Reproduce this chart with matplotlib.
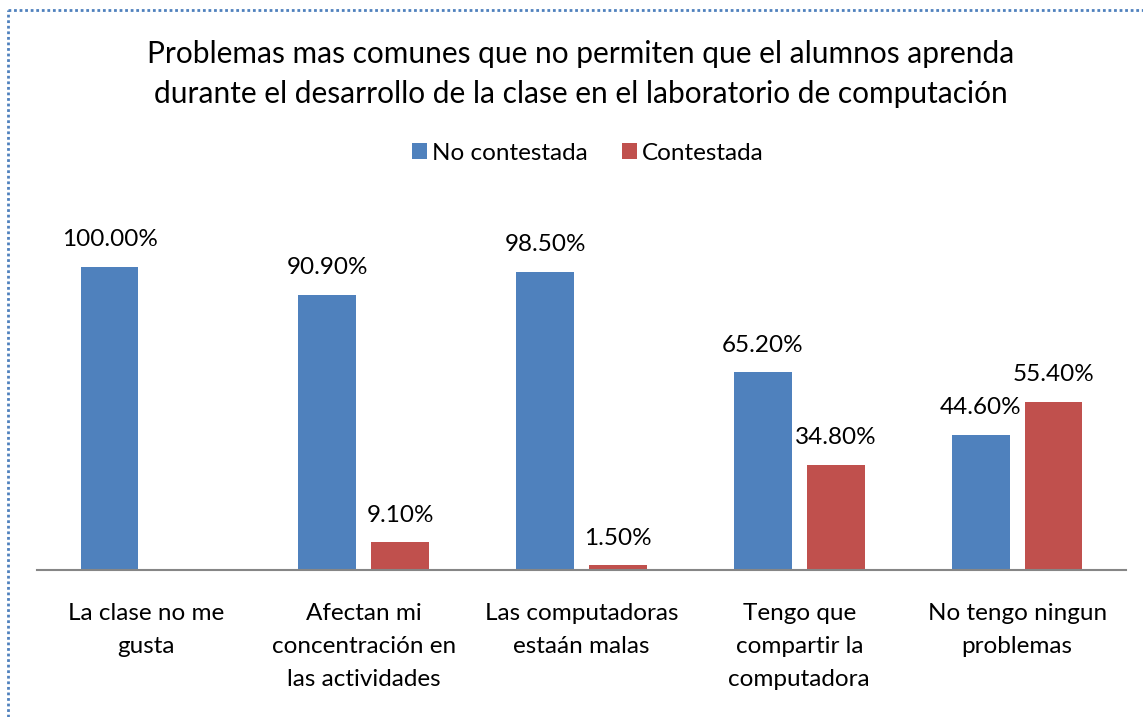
import numpy as np
import matplotlib.pyplot as plt
from matplotlib.lines import Line2D

categories = ['La clase no me\ngusta', 'Afectan mi\nconcentración en\nlas actividades',
              'Las computadoras\nestaán malas', 'Tengo que\ncompartir la\ncomputadora',
              'No tengo ningun\nproblemas']
no_contestada = [100.0, 90.9, 98.5, 65.2, 44.6]
contestada = [0.0, 9.1, 1.5, 34.8, 55.4]

plt.rcParams['font.family'] = ['Lato', 'DejaVu Sans']

W, H = 1143, 717
fig = plt.figure(figsize=(W / 100, H / 100), dpi=100)

# plot area: baseline at y=570 px, axis line x 37..1126
ax = fig.add_axes([37 / W, (H - 570) / H, 1089 / W, 370 / H])
x = np.arange(len(categories))
bw = 0.266
off = 0.167
b1 = ax.bar(x - off, no_contestada, bw, color='#4F81BD', label='No contestada')
b2 = ax.bar(x + off, contestada, bw, color='#C0504D', label='Contestada')

ax.set_xlim(-0.5, len(categories) - 0.5)
ax.set_ylim(0, 370 / 303 * 100)
for s in ['top', 'right', 'left']:
    ax.spines[s].set_visible(False)
ax.spines['bottom'].set_color('#868686')
ax.spines['bottom'].set_linewidth(1.5)
ax.set_yticks([])
ax.set_xticks(x)
ax.set_xticklabels(categories, fontsize=17.5, linespacing=1.7, va='top')
ax.tick_params(axis='x', length=0, pad=24)

for bars, vals in [(b1, no_contestada), (b2, contestada)]:
    for rect, v in zip(bars, vals):
        if v == 0:
            continue
        ax.annotate('%.2f%%' % v, (rect.get_x() + rect.get_width() / 2, v),
                    xytext=(0, 12), textcoords='offset points',
                    ha='center', va='bottom', fontsize=17.5)

fig.text(581 / W, 1 - 74 / H,
         'Problemas mas comunes que no permiten que el alumnos aprenda\n'
         'durante el desarrollo de la clase en el laboratorio de computación',
         ha='center', va='center', fontsize=21.5, linespacing=1.49)

fig.legend(handles=[b1, b2], loc='center', bbox_to_anchor=(588 / W, 1 - 153 / H),
           ncol=2, frameon=False, fontsize=17.5, handlelength=0.6, handleheight=0.6,
           handletextpad=0.22, columnspacing=1.4)

# dotted frame along top and left edges
fig.add_artist(Line2D([8 / W, 8 / W], [0, 1 - 10 / H], transform=fig.transFigure,
                      color='#4F81BD', lw=2, linestyle=(0, (1, 1))))
fig.add_artist(Line2D([8 / W, 1], [1 - 10 / H, 1 - 10 / H], transform=fig.transFigure,
                      color='#4F81BD', lw=2, linestyle=(0, (1, 1))))

fig.savefig('out.png', dpi=100)
